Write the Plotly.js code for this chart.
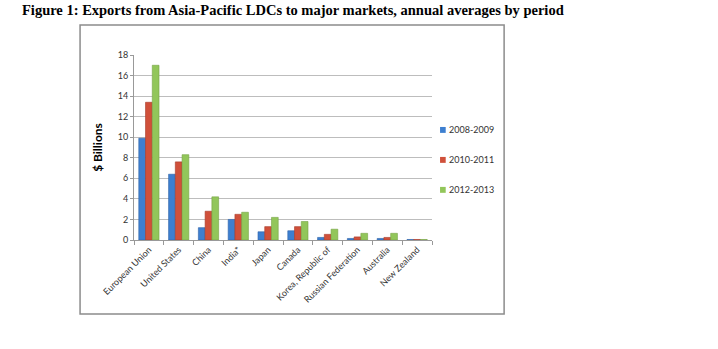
<!DOCTYPE html>
<html><head><meta charset="utf-8">
<script src="https://cdn.plot.ly/plotly-3.0.1.min.js"></script>
<style>body{margin:0;background:#fff}#c{width:718px;height:349px}</style>
</head><body><div id="c"></div>
<script>
const categories = ["European Union","United States","China","India*","Japan","Canada","Korea, Republic of","Russian Federation","Australia","New Zealand"];
const seriesNames = ["2008-2009","2010-2011","2012-2013"];
const v2008 = [9.9, 6.4, 1.2, 2.0, 0.8, 0.9, 0.25, 0.15, 0.15, 0.05];
const v2010 = [13.4, 7.6, 2.8, 2.5, 1.3, 1.3, 0.55, 0.3, 0.25, 0.05];
const v2012 = [17.0, 8.3, 4.2, 2.7, 2.2, 1.8, 1.05, 0.65, 0.65, 0.05];
const yTicks = [0,2,4,6,8,10,12,14,16,18];
const colors = ["#3d7fd0","#d0503a","#92c65a"];
const lineColors = ["#2f63a8","#a83a2a","#76a245"];
const vals = [v2008, v2010, v2012];
const traces = vals.map((v,i)=>({
  type:'bar', x:categories, y:v, name:seriesNames[i],
  marker:{color:colors[i], line:{color:lineColors[i], width:0.6}}
}));
const fontF = "Lato, 'Liberation Sans', sans-serif";
// custom legend (small squares + labels) in paper coordinates
const legX = 1.027, legY0 = 0.595, legStep = 0.162;
const legShapes = seriesNames.map((n,i)=>({type:'rect', xref:'paper', yref:'paper',
  x0:legX, x1:legX+0.019, y0:legY0-i*legStep-0.016, y1:legY0-i*legStep+0.016,
  fillcolor:colors[i], line:{width:0}}));
const legAnn = seriesNames.map((n,i)=>({xref:'paper', yref:'paper', x:legX+0.024, y:legY0-i*legStep,
  xanchor:'left', yanchor:'middle', showarrow:false, text:n, font:{family:fontF, size:9, color:'#333'}}));
const layout = {
  width:718, height:349,
  margin:{l:134, r:286, t:55, b:109},
  paper_bgcolor:'#fff', plot_bgcolor:'#fff',
  barmode:'group', bargap:0.32, bargroupgap:0,
  showlegend:false,
  font:{family:fontF, size:9, color:'#333'},
  xaxis:{type:'category', tickangle:-45, tickfont:{family:fontF, size:9, color:'#333'},
    showline:true, linecolor:'#999', linewidth:1, ticks:'outside', tickson:'boundaries', ticklen:4, tickcolor:'#999',
    showgrid:false},
  yaxis:{range:[0,18], tickvals:yTicks, ticktext:yTicks.map(String), showgrid:true, gridcolor:'#bdbdbd', gridwidth:1,
    showline:true, linecolor:'#999', ticks:'outside', ticklen:3, tickcolor:'#999', zeroline:false,
    tickfont:{family:fontF, size:9, color:'#333'},
    title:{text:'<b>$ Billions</b>', font:{family:fontF, size:12, color:'#000'}, standoff:12}},
  shapes:[{type:'rect', xref:'paper', yref:'paper', x0:-0.181, x1:1.242, y0:-0.4, y1:1.162, line:{color:'#8c8c8c', width:1.5}, fillcolor:'rgba(0,0,0,0)'}].concat(legShapes),
  annotations:[{xref:'paper', yref:'paper', x:-0.383, y:1.243, xanchor:'left', yanchor:'middle', showarrow:false,
    text:'<b>Figure 1: Exports from Asia-Pacific LDCs to major markets, annual averages by period</b>',
    font:{family:"'Liberation Serif', 'Times New Roman', serif", size:14.5, color:'#000'}}].concat(legAnn)
};
Plotly.newPlot('c', traces, layout, {displayModeBar:false, staticPlot:true});
</script></body></html>
